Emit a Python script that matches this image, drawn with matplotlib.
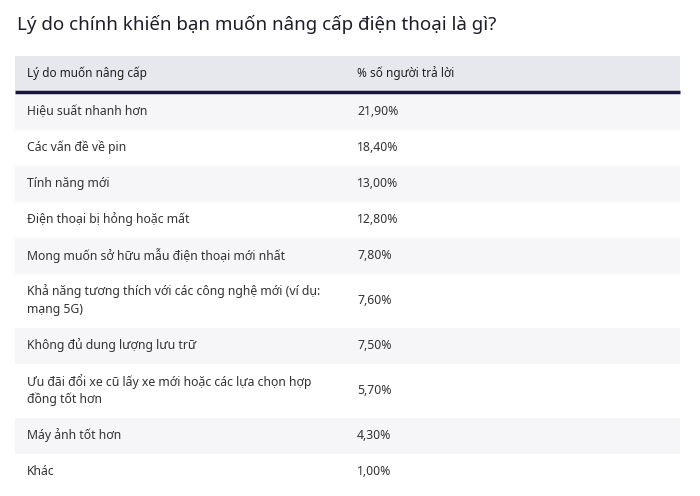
import matplotlib
matplotlib.use("Agg")
import matplotlib.pyplot as plt
from matplotlib.patches import Rectangle

title = "Lý do chính khiến bạn muốn nâng cấp điện thoại là gì?"
headers = ["Lý do muốn nâng cấp", "% số người trả lời"]
reasons = ["Hiệu suất nhanh hơn", "Các vấn đề về pin", "Tính năng mới",
           "Điện thoại bị hỏng hoặc mất", "Mong muốn sở hữu mẫu điện thoại mới nhất",
           "Khả năng tương thích với các công nghệ mới (ví dụ:\nmạng 5G)",
           "Không đủ dung lượng lưu trữ",
           "Ưu đãi đổi xe cũ lấy xe mới hoặc các lựa chọn hợp\nđồng tốt hơn",
           "Máy ảnh tốt hơn", "Khác"]
percents = ["21,90%", "18,40%", "13,00%", "12,80%", "7,80%", "7,60%", "7,50%", "5,70%", "4,30%", "1,00%"]

plt.rcParams['font.family'] = ['Noto Sans', 'DejaVu Sans']
fig = plt.figure(figsize=(7, 4.96), dpi=100)
ax = fig.add_axes([0, 0, 1, 1])
ax.set_xlim(0, 700); ax.set_ylim(496, 0); ax.axis('off')

ax.text(17, 24, title, fontsize=13.5, fontweight='bold', color='#1d1d2b', va='center')
x0, x1, xc = 15, 680, 357
ax.add_patch(Rectangle((x0, 56), x1 - x0, 35, color='#e7e8ed', lw=0))
ax.plot([x0, x1], [92, 92], color='#15163a', lw=2.5, solid_capstyle='butt')
ax.text(27, 73.5, headers[0], fontsize=8.5, fontweight='semibold', color='#222', va='center')
ax.text(xc, 73.5, headers[1], fontsize=8.5, fontweight='semibold', color='#222', va='center')

y = 93.5
for i, (r, p) in enumerate(zip(reasons, percents)):
    lines = r.split('\n')
    h = 54 if len(lines) > 1 else 36
    if i % 2 == 0:
        ax.add_patch(Rectangle((x0, y), x1 - x0, h, color='#f6f6f8', lw=0))
    n = len(lines)
    for k, ln in enumerate(lines):
        ax.text(27, y + h / 2 + (k - (n - 1) / 2) * 18, ln, fontsize=8.8,
                fontweight='semibold', color='#333', va='center')
    ax.text(xc, y + h / 2, p, fontsize=8.8, color='#333', va='center')
    y += h

fig.savefig('out.png', dpi=100)
